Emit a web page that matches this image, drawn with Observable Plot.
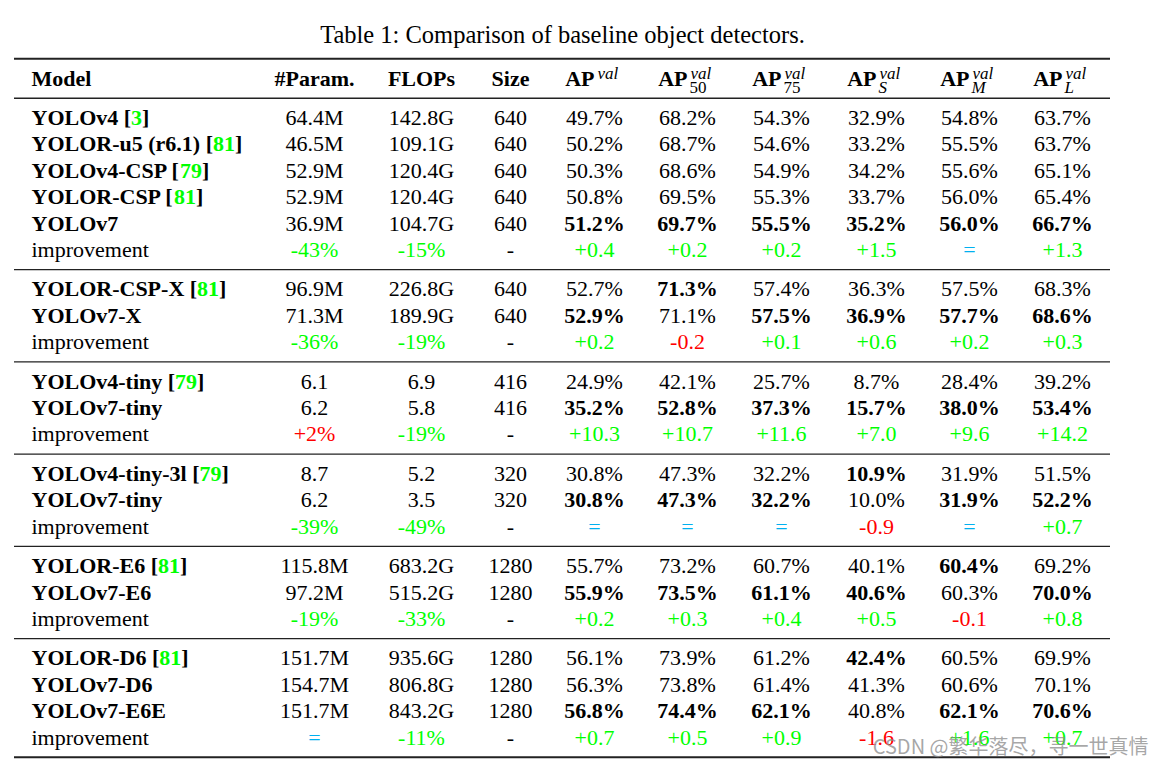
<!DOCTYPE html>
<html><head><meta charset="utf-8">
<script src="https://cdn.jsdelivr.net/npm/d3@7"></script>
<script src="https://cdn.jsdelivr.net/npm/@observablehq/plot@0.6"></script>
<style>html,body{margin:0;padding:0;background:#fff}svg{display:block}</style>
</head><body><div id="chart"></div>
<script>
// ---------- DATA ----------
const title = "Table 1: Comparison of baseline object detectors.";
const headerLabels = ["Model", "#Param.", "FLOPs", "Size"];
const apSubscripts = ["", "50", "75", "S", "M", "L"];
const models = ["YOLOv4","YOLOR-u5 (r6.1)","YOLOv4-CSP","YOLOR-CSP","YOLOv7","improvement",
  "YOLOR-CSP-X","YOLOv7-X","improvement",
  "YOLOv4-tiny","YOLOv7-tiny","improvement",
  "YOLOv4-tiny-3l","YOLOv7-tiny","improvement",
  "YOLOR-E6","YOLOv7-E6","improvement",
  "YOLOR-D6","YOLOv7-D6","YOLOv7-E6E","improvement"];
const refs = ["3","81","79","81","","", "81","","", "79","","", "79","","", "81","","", "81","","",""];
const groupIds = [1,1,1,1,1,1, 2,2,2, 3,3,3, 4,4,4, 5,5,5, 6,6,6,6];
const params = ["64.4M","46.5M","52.9M","52.9M","36.9M","-43%", "96.9M","71.3M","-36%", "6.1","6.2","+2%", "8.7","6.2","-39%", "115.8M","97.2M","-19%", "151.7M","154.7M","151.7M","="];
const flops = ["142.8G","109.1G","120.4G","120.4G","104.7G","-15%", "226.8G","189.9G","-19%", "6.9","5.8","-19%", "5.2","3.5","-49%", "683.2G","515.2G","-33%", "935.6G","806.8G","843.2G","-11%"];
const sizes = ["640","640","640","640","640","-", "640","640","-", "416","416","-", "320","320","-", "1280","1280","-", "1280","1280","1280","-"];
const ap = ["49.7%","50.2%","50.3%","50.8%","51.2%","+0.4", "52.7%","52.9%","+0.2", "24.9%","35.2%","+10.3", "30.8%","30.8%","=", "55.7%","55.9%","+0.2", "56.1%","56.3%","56.8%","+0.7"];
const ap50 = ["68.2%","68.7%","68.6%","69.5%","69.7%","+0.2", "71.3%","71.1%","-0.2", "42.1%","52.8%","+10.7", "47.3%","47.3%","=", "73.2%","73.5%","+0.3", "73.9%","73.8%","74.4%","+0.5"];
const ap75 = ["54.3%","54.6%","54.9%","55.3%","55.5%","+0.2", "57.4%","57.5%","+0.1", "25.7%","37.3%","+11.6", "32.2%","32.2%","=", "60.7%","61.1%","+0.4", "61.2%","61.4%","62.1%","+0.9"];
const apS = ["32.9%","33.2%","34.2%","33.7%","35.2%","+1.5", "36.3%","36.9%","+0.6", "8.7%","15.7%","+7.0", "10.9%","10.0%","-0.9", "40.1%","40.6%","+0.5", "42.4%","41.3%","40.8%","-1.6"];
const apM = ["54.8%","55.5%","55.6%","56.0%","56.0%","=", "57.5%","57.7%","+0.2", "28.4%","38.0%","+9.6", "31.9%","31.9%","=", "60.4%","60.3%","-0.1", "60.5%","60.6%","62.1%","+1.6"];
const apL = ["63.7%","63.7%","65.1%","65.4%","66.7%","+1.3", "68.3%","68.6%","+0.3", "39.2%","53.4%","+14.2", "51.5%","52.2%","+0.7", "69.2%","70.0%","+0.8", "69.9%","70.1%","70.6%","+0.7"];
const watermark = "CSDN @繁华落尽，寻一世真情";

// ---------- LAYOUT ----------
const W = 1159, H = 768;
const SERIF = "'Liberation Serif', 'Times New Roman', serif";
const FS = 22, SFS = 17, TFS = 24.5;
const GREEN = "#00ff00", RED = "#ff0000", BLUE = "#00b0f0";
const colX = [31, 314, 421, 510, 594, 687, 781, 876, 969, 1062];
const rowStep = 26.36, headerPx = 78;
const tableX1 = 14, tableX2 = 1110;

const valueCols = [params, flops, sizes, ap, ap50, ap75, apS, apM, apL];

// row vertical units
const rowU = []; const rules = [{u: -0.75, w: 2}];
{ let u = 0, prev = null;
  groupIds.forEach((g) => {
    if (g !== prev) { rules.push({u: u + 0.75, w: 1.3}); u += 1.5; }
    else u += 1;
    rowU.push(u); prev = g;
  });
  rules.push({u: u + 0.75, w: 2});
}

// bold = best value within group among model rows (ties -> last row)
const boldSet = new Set();
valueCols.forEach((col, c) => {
  if (c < 3) return;
  const groups = d3.group(d3.range(models.length).filter(i => models[i] !== "improvement"), i => groupIds[i]);
  for (const [, idx] of groups) {
    let best = -Infinity, bi = -1;
    idx.forEach(i => { const v = parseFloat(col[i]); if (v >= best) { best = v; bi = i; } });
    boldSet.add(c + ":" + bi);
  }
});

function colorFor(c, t, isImp) {
  if (!isImp) return "#000";
  if (t === "=") return BLUE;
  if (t === "-") return "#000";
  const neg = t.startsWith("-");
  if (c < 2) return neg ? GREEN : RED;
  return neg ? RED : GREEN;
}

const cells = [];
models.forEach((m, i) => {
  valueCols.forEach((col, c) => {
    cells.push({x: colX[c + 1], u: rowU[i], text: col[i], bold: boldSet.has(c + ":" + i), color: colorFor(c, col[i], m === "improvement")});
  });
});

// model names with references
const ctx = document.createElement("canvas").getContext("2d");
ctx.font = `bold ${FS}px 'Liberation Serif'`;
const modelRows = models.map((m, i) => {
  const head = m + (refs[i] ? " [" : "");
  const w1 = ctx.measureText(head).width;
  const w2 = refs[i] ? ctx.measureText(refs[i]).width : 0;
  return {name: m, head, ref: refs[i], u: rowU[i], imp: m === "improvement", xRef: colX[0] + w1, xClose: colX[0] + w1 + w2};
});
const withRef = modelRows.filter(d => d.ref);

const headers = headerLabels.map((h, i) => ({text: h, x: colX[i], anchor: i === 0 ? "start" : "middle"}));
const apHeads = apSubscripts.map((s, i) => ({x: colX[4 + i], sub: s, italic: /[A-Z]/.test(s)}));

const base = {fontFamily: SERIF, fontSize: FS};
const plot = Plot.plot({
  width: W, height: H, margin: 0,
  x: {domain: [0, W], range: [0, W], axis: null},
  y: {domain: [-headerPx / rowStep, (H - headerPx) / rowStep], range: [0, H], axis: null},
  marks: [
    Plot.text([title], {fontFamily: SERIF, fontSize: TFS, x: () => (tableX1 + tableX2) / 2, y: () => -1.65, text: d => d, fill: "#000"}),
    Plot.ruleY(rules, {y: "u", x1: () => tableX1, x2: () => tableX2, strokeWidth: "w", stroke: "#222"}),
    // header
    Plot.text(headers.filter(d => d.anchor === "start"), {...base, x: "x", y: () => 0, text: "text", fontWeight: "bold", textAnchor: "start"}),
    Plot.text(headers.filter(d => d.anchor !== "start"), {...base, x: "x", y: () => 0, text: "text", fontWeight: "bold"}),
    Plot.text(apHeads, {...base, x: "x", y: () => 0, text: () => "AP", fontWeight: "bold", textAnchor: "end", dx: 0}),
    Plot.text(apHeads, {fontFamily: SERIF, fontSize: SFS, x: "x", y: () => 0, text: () => "val", fontStyle: "italic", textAnchor: "start", dx: 3, dy: -5}),
    Plot.text(apHeads.filter(d => d.sub && !d.italic), {fontFamily: SERIF, fontSize: SFS, x: "x", y: () => 0, text: "sub", textAnchor: "start", dx: 2, dy: 9}),
    Plot.text(apHeads.filter(d => d.italic), {fontFamily: SERIF, fontSize: SFS, x: "x", y: () => 0, text: "sub", fontStyle: "italic", textAnchor: "start", dx: 2, dy: 9}),
    // model column
    Plot.text(modelRows.filter(d => !d.imp), {...base, x: () => colX[0], y: "u", text: "head", fontWeight: "bold", textAnchor: "start"}),
    Plot.text(modelRows.filter(d => d.imp), {...base, x: () => colX[0], y: "u", text: "name", textAnchor: "start"}),
    Plot.text(withRef, {...base, x: "xRef", y: "u", text: "ref", fontWeight: "bold", textAnchor: "start", fill: GREEN}),
    Plot.text(withRef, {...base, x: "xClose", y: "u", text: () => "]", fontWeight: "bold", textAnchor: "start"}),
    // values
    Plot.text(cells.filter(d => !d.bold), {...base, x: "x", y: "u", text: "text", fill: "color"}),
    Plot.text(cells.filter(d => d.bold), {...base, x: "x", y: "u", text: "text", fill: "color", fontWeight: "bold"}),
    // watermark (overlaps the last row, as in the reference)
    Plot.text([watermark], {x: () => 1148, y: () => (747 - headerPx) / rowStep, text: d => d, textAnchor: "end", fontFamily: "'Noto Sans CJK SC', sans-serif", fontSize: 20, fill: "#8a8a8a", fillOpacity: 0.75})
  ]
});
document.getElementById("chart").appendChild(plot);
</script></body></html>
